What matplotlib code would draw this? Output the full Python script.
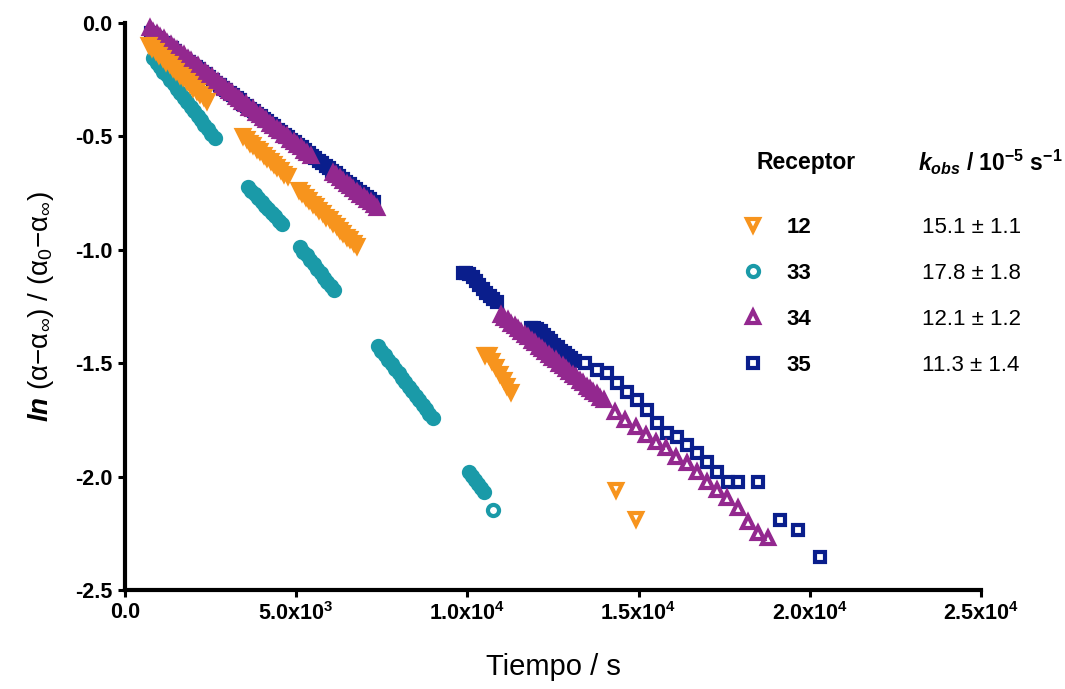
import matplotlib
matplotlib.use("Agg")
import matplotlib.pyplot as plt
from matplotlib.ticker import FixedLocator, FixedFormatter

plt.rcParams['font.family'] = ['Liberation Sans', 'DejaVu Sans']
plt.rcParams['mathtext.fontset'] = 'custom'
plt.rcParams['mathtext.rm'] = 'Liberation Sans'
plt.rcParams['mathtext.it'] = 'Liberation Sans:italic:bold'
plt.rcParams['mathtext.bf'] = 'Liberation Sans:bold'

# ---------------- data: time (s) and ln((a-a_inf)/(a0-a_inf)) ----------------
# Receptor 12
t12 = [700, 800, 900, 1000, 1100, 1200, 1300, 1400, 1500, 1600, 1700, 1800, 1900, 2000, 2100, 2200, 2300, 2400,
       3450, 3550, 3650, 3750, 3850, 3950, 4050, 4150, 4250, 4350, 4450, 4550, 4650, 4750,
       5080, 5180, 5280, 5380, 5480, 5580, 5680, 5780, 5880, 5980, 6080, 6180, 6280, 6380, 6480, 6580, 6680, 6780,
       10510, 10620, 10730, 10840, 10950, 11060, 11170, 11280,
       14340, 14920]
ln12 = [-0.097, -0.112, -0.125, -0.141, -0.154, -0.170, -0.182, -0.199, -0.211, -0.228, -0.240, -0.256, -0.269, -0.285, -0.298, -0.314, -0.326, -0.342,
        -0.498, -0.511, -0.527, -0.538, -0.554, -0.566, -0.582, -0.594, -0.609, -0.621, -0.637, -0.649, -0.665, -0.676,
        -0.736, -0.748, -0.768, -0.779, -0.797, -0.808, -0.826, -0.837, -0.855, -0.866, -0.884, -0.895, -0.913, -0.924, -0.942, -0.953, -0.971, -0.982,
        -1.464, -1.466, -1.492, -1.518, -1.546, -1.572, -1.600, -1.627,
        -2.060, -2.187]

# Receptor 33
t33 = [820, 920, 1020, 1120, 1220, 1320, 1420, 1520, 1620, 1720, 1820, 1920, 2020, 2120, 2220, 2320, 2420, 2520, 2620,
       3590, 3690, 3790, 3890, 3990, 4090, 4190, 4290, 4390, 4490, 4590,
       5110, 5210, 5310, 5410, 5510, 5610, 5710, 5810, 5910, 6010, 6110,
       7390, 7490, 7590, 7690, 7790, 7890, 7990, 8090, 8190, 8290, 8390, 8490, 8590, 8690, 8790, 8890, 8990,
       10045, 10130, 10220, 10300, 10390, 10480,
       10745]
ln33 = [-0.154, -0.175, -0.192, -0.214, -0.231, -0.253, -0.271, -0.292, -0.310, -0.332, -0.349, -0.371, -0.388, -0.410, -0.428, -0.449, -0.467, -0.488, -0.506,
        -0.723, -0.740, -0.755, -0.773, -0.788, -0.806, -0.820, -0.839, -0.853, -0.871, -0.886,
        -0.988, -1.008, -1.025, -1.046, -1.063, -1.084, -1.102, -1.123, -1.140, -1.161, -1.178,
        -1.424, -1.445, -1.463, -1.485, -1.503, -1.525, -1.542, -1.564, -1.582, -1.604, -1.622, -1.644, -1.662, -1.683, -1.701, -1.723, -1.742,
        -1.980, -1.996, -2.014, -2.034, -2.051, -2.068,
        -2.147]

# Receptor 34
t34 = [730, 830, 930, 1030, 1130, 1230, 1330, 1430, 1530, 1630, 1730, 1830, 1930, 2030, 2130, 2230, 2330, 2430, 2530, 2630,
       2730, 2830, 2930, 3030, 3130, 3230, 3330, 3430, 3530, 3630, 3730, 3830, 3930, 4030, 4130, 4230, 4330, 4430, 4530, 4630,
       4730, 4830, 4930, 5030, 5130, 5230, 5330, 5430,
       6070, 6170, 6270, 6370, 6470, 6570, 6670, 6770, 6870, 6970, 7070, 7170, 7270, 7370,
       10980, 11080, 11180, 11280, 11380, 11480, 11580, 11680, 11780, 11880, 11980, 12080, 12180, 12280, 12380, 12480,
       12580, 12680, 12780, 12880, 12980, 13080, 13180, 13280, 13380, 13480, 13580, 13680, 13780, 13880, 13980,
       14310, 14600, 14920, 15210, 15510, 15800, 16090, 16410, 16700, 16990, 17290, 17580, 17900, 18190, 18480, 18780]
ln34 = [-0.024, -0.039, -0.048, -0.063, -0.072, -0.088, -0.095, -0.111, -0.119, -0.135, -0.143, -0.158, -0.167, -0.183, -0.190, -0.207, -0.214, -0.230, -0.238, -0.254,
        -0.262, -0.277, -0.286, -0.302, -0.309, -0.326, -0.333, -0.349, -0.357, -0.373, -0.381, -0.397, -0.405, -0.421, -0.429, -0.445, -0.452, -0.468, -0.476, -0.492,
        -0.500, -0.516, -0.524, -0.540, -0.548, -0.564, -0.571, -0.587,
        -0.661, -0.671, -0.685, -0.695, -0.709, -0.719, -0.733, -0.743, -0.757, -0.767, -0.780, -0.791, -0.804, -0.815,
        -1.287, -1.300, -1.310, -1.326, -1.335, -1.351, -1.362, -1.376, -1.386, -1.401, -1.412, -1.427, -1.436, -1.452, -1.462, -1.477,
        -1.488, -1.502, -1.512, -1.527, -1.538, -1.553, -1.563, -1.578, -1.588, -1.603, -1.614, -1.628, -1.638, -1.653, -1.664,
        -1.715, -1.750, -1.781, -1.817, -1.847, -1.874, -1.914, -1.940, -1.980, -2.024, -2.059, -2.095, -2.139, -2.200, -2.249, -2.271]

# Receptor 35
t35 = [760, 860, 960, 1060, 1160, 1260, 1360, 1460, 1560, 1660, 1760, 1860, 1960, 2060, 2160, 2260, 2360, 2460, 2560, 2660,
       2760, 2860, 2960, 3060, 3160, 3260, 3360, 3460, 3560, 3660, 3760, 3860, 3960, 4060, 4160, 4260, 4360, 4460, 4560, 4660,
       4760, 4860, 4960, 5060, 5160, 5260, 5360, 5460, 5560, 5660, 5760, 5860, 5960, 6060, 6160, 6260, 6360, 6460, 6560, 6660,
       6760, 6860, 6960, 7060, 7160, 7260,
       9870, 9960, 10050, 10150, 10250, 10350, 10450, 10550, 10650, 10750, 10860,
       11855, 11950, 12040, 12140, 12240, 12340, 12440, 12540, 12640, 12740, 12840, 12940, 13040, 13140,
       13430, 13780, 14070, 14370, 14660, 14950, 15240, 15530, 15830, 16120, 16410, 16700, 17000, 17290, 17610, 17900,
       18480, 19130, 19650, 20290]
ln35 = [-0.044, -0.057, -0.066, -0.080, -0.089, -0.103, -0.112, -0.125, -0.135, -0.148,
        -0.158, -0.171, -0.181, -0.194, -0.204, -0.217, -0.227, -0.240, -0.250, -0.263,
        -0.273, -0.286, -0.296, -0.309, -0.319, -0.332, -0.341, -0.355, -0.364, -0.378,
        -0.387, -0.401, -0.410, -0.424, -0.433, -0.447, -0.456, -0.470, -0.479, -0.493,
        -0.502, -0.516, -0.525, -0.539, -0.548, -0.562, -0.571, -0.585, -0.594, -0.608,
        -0.617, -0.631, -0.640, -0.653, -0.663, -0.676, -0.686, -0.699, -0.709, -0.722,
        -0.732, -0.745, -0.755, -0.768, -0.778, -0.790,
        -1.102, -1.103, -1.108, -1.122, -1.138, -1.155, -1.172, -1.190, -1.205, -1.218, -1.232,
        -1.345, -1.346, -1.348, -1.360, -1.375, -1.390, -1.402, -1.418, -1.430, -1.445, -1.455, -1.470, -1.478, -1.490,
        -1.499, -1.530, -1.543, -1.587, -1.627, -1.662, -1.706, -1.764, -1.808, -1.825, -1.861, -1.896, -1.936, -1.980, -2.024, -2.024,
        -2.024, -2.191, -2.235, -2.354]

receptors = ['12', '33', '34', '35']
kobs_text = ['15.1 \u00b1 1.1', '17.8 \u00b1 1.8', '12.1 \u00b1 1.2', '11.3 \u00b1 1.4']

x_ticks = [0, 5000, 10000, 15000, 20000, 25000]
x_ticklabels = ['0.0', r'5.0x10$^{\mathbf{3}}$', r'1.0x10$^{\mathbf{4}}$', r'1.5x10$^{\mathbf{4}}$',
                r'2.0x10$^{\mathbf{4}}$', r'2.5x10$^{\mathbf{4}}$']
y_ticks = [0.0, -0.5, -1.0, -1.5, -2.0, -2.5]
y_ticklabels = ['0.0', '-0.5', '-1.0', '-1.5', '-2.0', '-2.5']

colors = {'12': '#F7941D', '33': '#1A9AA8', '34': '#93288F', '35': '#0A1E8C'}
markers = {'12': 'v', '33': 'o', '34': '^', '35': 's'}
sizes = {'12': 8.8, '33': 8.0, '34': 8.8, '35': 7.6}
EDGE = 3.0
RUN_GAP = 150  # s; readings closer than this form a continuous run


def split_runs(t, v):
    """Separate closely spaced readings (continuous runs) from isolated ones."""
    n = len(t)
    dense = [(i > 0 and t[i] - t[i - 1] <= RUN_GAP) or
             (i < n - 1 and t[i + 1] - t[i] <= RUN_GAP) for i in range(n)]
    td = [t[i] for i in range(n) if dense[i]]
    vd = [v[i] for i in range(n) if dense[i]]
    ts = [t[i] for i in range(n) if not dense[i]]
    vs = [v[i] for i in range(n) if not dense[i]]
    return (td, vd), (ts, vs)


# ---------------- figure ----------------
W, H = 1065, 689
fig = plt.figure(figsize=(W / 100, H / 100), dpi=100)
ax = fig.add_axes([125 / W, 1 - 590 / H, (981 - 125) / W, (590 - 23) / H])

series = {'12': (t12, ln12), '33': (t33, ln33), '34': (t34, ln34), '35': (t35, ln35)}
handles = {}
for key in ['35', '34', '33', '12']:
    (td, vd), (ts, vs) = split_runs(*series[key])
    # overlapping open symbols of a continuous run merge into a solid band
    ax.plot(td, vd, ls='none', marker=markers[key], ms=sizes[key], mew=EDGE,
            mec=colors[key], mfc=colors[key], clip_on=False)
    h, = ax.plot(ts, vs, ls='none', marker=markers[key], ms=sizes[key], mew=EDGE,
                 mec=colors[key], mfc='none', clip_on=False)
    handles[key] = h

ax.set_xlim(0, 25000)
ax.set_ylim(-2.5, 0)
for s in ['top', 'right']:
    ax.spines[s].set_visible(False)
for s in ['left', 'bottom']:
    ax.spines[s].set_linewidth(3)
ax.xaxis.set_major_locator(FixedLocator(x_ticks))
ax.xaxis.set_major_formatter(FixedFormatter(x_ticklabels))
ax.yaxis.set_major_locator(FixedLocator(y_ticks))
ax.yaxis.set_major_formatter(FixedFormatter(y_ticklabels))
ax.tick_params(direction='out', length=5, width=2.2, labelsize=15.5, pad=4)
for lab in ax.get_xticklabels() + ax.get_yticklabels():
    lab.set_fontweight('bold')

ax.set_xlabel('Tiempo / s', fontsize=21, labelpad=20)
ax.set_ylabel('$\\mathit{ln}$ (\u03b1\u2212\u03b1$_{\\infty}$) / (\u03b1$_{0}$\u2212\u03b1$_{\\infty}$)',
              fontsize=20, labelpad=14)

# receptor key with rate constants
leg = ax.legend([handles[k] for k in receptors], receptors, loc='upper left',
                bbox_to_anchor=(744 / W, 1 - 217 / H), bbox_transform=fig.transFigure,
                frameon=False, prop={'weight': 'bold', 'size': 16},
                handlelength=0.8, handletextpad=1.1, labelspacing=1.12,
                borderpad=0, borderaxespad=0)

fig.text(757 / W, 1 - 162 / H, 'Receptor', fontsize=16.5, fontweight='bold', va='center')
fig.text(918 / W, 1 - 162 / H,
         r'$\mathit{k}_{\mathit{obs}}$ / 10$^{\mathbf{-5}}$ s$^{\mathbf{-1}}$',
         fontsize=16.5, fontweight='bold', va='center')

fig.canvas.draw()
inv = fig.transFigure.inverted()
for txt, val in zip(leg.get_texts(), kobs_text):
    bb = txt.get_window_extent()
    yc = inv.transform((0, (bb.y0 + bb.y1) / 2))[1]
    fig.text(922 / W, yc, val, fontsize=16, va='center')

fig.savefig('out.png', dpi=100)
